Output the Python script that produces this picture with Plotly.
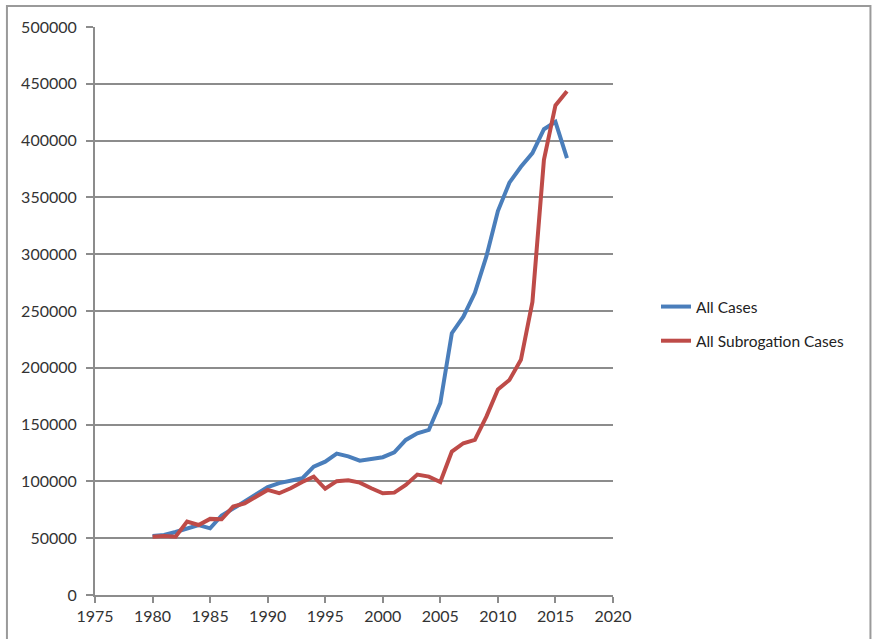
import plotly.graph_objects as go

# Annual case counts, 1980-2016
years = list(range(1980, 2017))
all_cases = [52000, 52800, 55500, 58500, 61500, 58700, 70000, 76000, 82000, 88000,
             95000, 98500, 100400, 102700, 113000, 117400, 124500, 122000, 118200, 119500,
             121300, 125500, 136500, 142400, 145300, 169000, 230500, 245000, 266000, 298000,
             338000, 363000, 377000, 389000, 410000, 416500, 384500]
subrogation_cases = [51300, 52000, 51300, 64600, 61600, 67000, 66600, 77800, 80700, 86600,
                     92500, 89600, 94000, 99500, 104200, 93500, 100200, 101000, 98900, 94000,
                     89500, 90100, 96900, 106000, 104200, 99500, 126200, 133600, 136500, 157000,
                     181000, 189300, 207000, 258000, 383000, 431000, 443500]

x_ticks = [1975, 1980, 1985, 1990, 1995, 2000, 2005, 2010, 2015, 2020]
y_ticks = [0, 50000, 100000, 150000, 200000, 250000, 300000, 350000, 400000, 450000, 500000]
y_labels = [str(v) for v in y_ticks]

BLUE = "#4A7EBB"
RED = "#BE4B48"
GRID = "#8C8C8C"
FONT = "Lato, Open Sans, sans-serif"

fig = go.Figure()
fig.add_trace(go.Scatter(x=years, y=all_cases, mode="lines", name="All Cases",
                         legendgroup="a", line=dict(color=BLUE, width=4)))
fig.add_trace(go.Scatter(x=years, y=subrogation_cases, mode="lines",
                         name="All Subrogation Cases", legendgroup="b",
                         line=dict(color=RED, width=4)))

fig.update_layout(
    width=873, height=639,
    margin=dict(l=95, r=260, t=27, b=44),
    paper_bgcolor="white", plot_bgcolor="white",
    font=dict(family=FONT, size=16, color="#333333"),
    showlegend=True,
    legend=dict(x=1.083, y=0.537, xanchor="left", yanchor="top",
                traceorder="grouped", tracegroupgap=11,
                font=dict(family=FONT, size=15.5, color="#222222"),
                bgcolor="rgba(0,0,0,0)"),
    shapes=[dict(type="rect", xref="paper", yref="paper",
                 x0=-0.170, x1=1.497, y0=-0.10, y1=1.037,
                 line=dict(color="#9a9a9a", width=2), layer="below")],
)

fig.update_xaxes(range=[1975, 2020], tickvals=x_ticks, showgrid=False, zeroline=False,
                 showline=True, linecolor=GRID, linewidth=2,
                 ticks="outside", ticklen=6, tickwidth=2, tickcolor=GRID,
                 tickfont=dict(family=FONT, size=16, color="#333333"))
fig.update_yaxes(range=[0, 500000], tickvals=y_ticks, ticktext=y_labels,
                 showgrid=True, gridcolor=GRID, gridwidth=2, zeroline=False,
                 showline=True, linecolor=GRID, linewidth=2,
                 ticks="outside", ticklen=7, tickwidth=2, tickcolor=GRID,
                 ticklabelstandoff=6,
                 tickfont=dict(family=FONT, size=16, color="#333333"))

fig.write_html("out.html")
